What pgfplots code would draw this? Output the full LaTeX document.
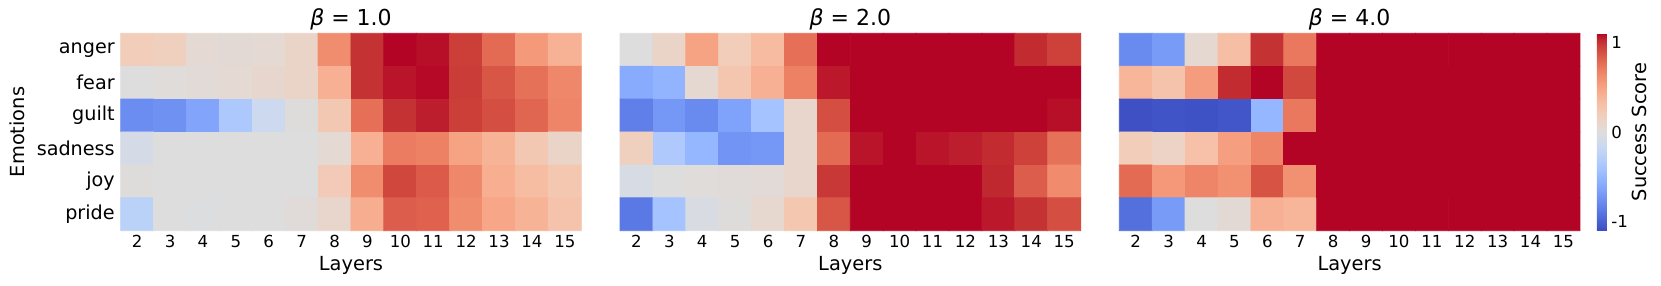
\documentclass[border=0pt]{standalone}
\usepackage{fontspec}
\setmainfont{DejaVu Sans}
\usepackage{pgfplots}
\usepackage{pgfplotstable}
\pgfplotsset{compat=1.18}
\pgfplotsset{colormap={coolwarm}{
rgb255=(59,76,192) rgb255=(68,90,204) rgb255=(77,104,215) rgb255=(87,117,225)
rgb255=(98,130,234) rgb255=(108,142,241) rgb255=(119,154,247) rgb255=(130,165,251)
rgb255=(141,176,254) rgb255=(152,185,255) rgb255=(163,194,255) rgb255=(174,201,253)
rgb255=(184,208,249) rgb255=(194,213,244) rgb255=(204,217,238) rgb255=(213,219,230)
rgb255=(221,221,221) rgb255=(229,216,209) rgb255=(236,211,197) rgb255=(241,204,185)
rgb255=(245,196,173) rgb255=(247,187,160) rgb255=(247,177,148) rgb255=(247,166,135)
rgb255=(244,154,123) rgb255=(241,141,111) rgb255=(236,127,99) rgb255=(229,112,88)
rgb255=(222,96,77) rgb255=(213,80,66) rgb255=(203,62,56) rgb255=(192,40,47)
rgb255=(180,4,38)}}

% y: 5=anger 4=fear 3=guilt 2=sadness 1=joy 0=pride
\pgfplotstableread{
x y z
2 5 0.20
3 5 0.18
4 5 0.06
5 5 0.05
6 5 0.06
7 5 0.12
8 5 0.62
9 5 1.00
10 5 1.10
11 5 1.08
12 5 0.96
13 5 0.78
14 5 0.55
15 5 0.41
2 4 0.00
3 4 0.02
4 4 0.04
5 4 0.06
6 4 0.09
7 4 0.12
8 4 0.42
9 4 1.00
10 4 1.07
11 4 1.09
12 4 0.97
13 4 0.87
14 4 0.75
15 4 0.65
2 3 -0.76
3 3 -0.74
4 3 -0.62
5 3 -0.35
6 3 -0.14
7 3 0.01
8 3 0.24
9 3 0.76
10 3 1.00
11 3 1.05
12 3 0.96
13 3 0.90
14 3 0.80
15 3 0.66
2 2 -0.08
3 2 0.00
4 2 0.00
5 2 0.00
6 2 0.00
7 2 0.00
8 2 0.06
9 2 0.42
10 2 0.70
11 2 0.68
12 2 0.50
13 2 0.40
14 2 0.24
15 2 0.12
2 1 0.01
3 1 0.00
4 1 0.00
5 1 0.00
6 1 0.00
7 1 0.00
8 1 0.22
9 1 0.62
10 1 0.93
11 1 0.85
12 1 0.65
13 1 0.43
14 1 0.33
15 1 0.25
2 0 -0.26
3 0 0.00
4 0 -0.01
5 0 0.00
6 0 0.00
7 0 0.03
8 0 0.10
9 0 0.44
10 0 0.84
11 0 0.82
12 0 0.62
13 0 0.48
14 0 0.40
15 0 0.28
}\tA

\pgfplotstableread{
x y z
2 5 0.00
3 5 0.12
4 5 0.50
5 5 0.20
6 5 0.34
7 5 0.76
8 5 1.10
9 5 1.10
10 5 1.10
11 5 1.10
12 5 1.10
13 5 1.10
14 5 1.02
15 5 0.95
2 4 -0.58
3 4 -0.52
4 4 0.07
5 4 0.26
6 4 0.42
7 4 0.68
8 4 1.06
9 4 1.10
10 4 1.10
11 4 1.10
12 4 1.10
13 4 1.10
14 4 1.10
15 4 1.10
2 3 -0.84
3 3 -0.70
4 3 -0.78
5 3 -0.64
6 3 -0.40
7 3 0.10
8 3 0.90
9 3 1.10
10 3 1.10
11 3 1.10
12 3 1.10
13 3 1.10
14 3 1.10
15 3 1.08
2 2 0.18
3 2 -0.34
4 2 -0.50
5 2 -0.72
6 2 -0.70
7 2 0.10
8 2 0.78
9 2 1.07
10 2 1.10
11 2 1.07
12 2 1.05
13 2 1.02
14 2 0.95
15 2 0.75
2 1 -0.05
3 1 0.00
4 1 0.02
5 1 0.03
6 1 0.04
7 1 0.10
8 1 0.98
9 1 1.10
10 1 1.10
11 1 1.10
12 1 1.10
13 1 1.03
14 1 0.84
15 1 0.63
2 0 -0.87
3 0 -0.40
4 0 -0.04
5 0 0.01
6 0 0.08
7 0 0.25
8 0 0.87
9 0 1.10
10 0 1.10
11 0 1.10
12 0 1.10
13 0 1.06
14 0 1.00
15 0 0.90
}\tB

\pgfplotstableread{
x y z
2 5 -0.78
3 5 -0.68
4 5 0.07
5 5 0.32
6 5 1.00
7 5 0.72
8 5 1.10
9 5 1.10
10 5 1.10
11 5 1.10
12 5 1.10
13 5 1.10
14 5 1.10
15 5 1.10
2 4 0.38
3 4 0.28
4 4 0.54
5 4 1.02
6 4 1.10
7 4 0.92
8 4 1.10
9 4 1.10
10 4 1.10
11 4 1.10
12 4 1.10
13 4 1.10
14 4 1.10
15 4 1.10
2 3 -1.08
3 3 -1.06
4 3 -1.07
5 3 -1.05
6 3 -0.50
7 3 0.72
8 3 1.10
9 3 1.10
10 3 1.10
11 3 1.10
12 3 1.10
13 3 1.10
14 3 1.10
15 3 1.10
2 2 0.20
3 2 0.14
4 2 0.30
5 2 0.52
6 2 0.66
7 2 1.10
8 2 1.10
9 2 1.10
10 2 1.10
11 2 1.10
12 2 1.10
13 2 1.10
14 2 1.10
15 2 1.10
2 1 0.78
3 1 0.56
4 1 0.66
5 1 0.60
6 1 0.88
7 1 0.60
8 1 1.10
9 1 1.10
10 1 1.10
11 1 1.10
12 1 1.10
13 1 1.10
14 1 1.10
15 1 1.10
2 0 -0.92
3 0 -0.68
4 0 0.00
5 0 0.05
6 0 0.42
7 0 0.38
8 0 1.10
9 0 1.10
10 0 1.10
11 0 1.10
12 0 1.10
13 0 1.10
14 0 1.10
15 0 1.10
}\tC

\pgfplotsset{hm/.style={
  scale only axis, width=230.3pt, height=98.7pt, anchor=south west,
  xmin=1.5, xmax=15.5, ymin=-0.5, ymax=5.5, enlargelimits=false,
  xtick={2,...,15}, xticklabels={2,3,4,5,6,7,8,9,10,11,12,13,14,15},
  ytick={0,...,5},
  major tick length=0pt, axis line style={draw=none},
  colormap name=coolwarm, point meta min=-1.1, point meta max=1.1,
  /pgf/number format/assume math mode=true,
  clip=false,
  xticklabel style={font=\fontsize{8.3}{10}\selectfont, anchor=base, inner sep=0pt, yshift=-8.3pt},
  yticklabel style={font=\fontsize{9.6}{11}\selectfont, anchor=east, inner sep=0pt, xshift=-2.8pt},
  xlabel={Layers},
  xlabel style={font=\fontsize{9.7}{11}\selectfont, at={(axis description cs:0.5,0)}, anchor=base, inner sep=0pt, yshift=-20pt},
}}
\newcommand{\hmtitle}[1]{\node[font=\fontsize{11}{13}\selectfont, anchor=base, inner sep=0pt] at ([yshift=3.65pt]rel axis cs:0.5,1) {{\itshape β} = #1};}

\begin{document}
\begin{tikzpicture}
\path[use as bounding box] (0,0) rectangle (830.5pt,142.5pt);

\begin{axis}[hm, at={(60.35pt,27.15pt)},
  yticklabels={pride,joy,sadness,guilt,fear,anger},
  ylabel={Emotions},
  ylabel style={font=\fontsize{9.7}{11}\selectfont, at={(axis description cs:-0.2251,0.5)}, anchor=center, inner sep=0pt}]
\addplot[matrix plot*, mesh/cols=14, point meta=explicit] table[x=x, y=y, meta=z] {\tA};
\hmtitle{1.0}
\end{axis}

\begin{axis}[hm, at={(310pt,27.15pt)}, yticklabels={}]
\addplot[matrix plot*, mesh/cols=14, point meta=explicit] table[x=x, y=y, meta=z] {\tB};
\hmtitle{2.0}
\end{axis}

\begin{axis}[hm, at={(559.65pt,27.15pt)}, yticklabels={},
  colorbar,
  colorbar style={width=5pt, at={(parent axis.north east)}, anchor=north west, xshift=0pt,
    axis line style={draw=none}, major tick length=0pt,
    ytick={-1,0,1}, yticklabels={-1,0,1},
    yticklabel style={font=\fontsize{8.3}{10}\selectfont, anchor=west, inner sep=0pt, xshift=2pt}}]
\addplot[matrix plot*, mesh/cols=14, point meta=explicit] table[x=x, y=y, meta=z] {\tC};
\hmtitle{4.0}
\node[font=\fontsize{9.7}{11}\selectfont, rotate=90, anchor=center, inner sep=0pt] at (rel axis cs:1.130,0.5) {Success Score};
\end{axis}
\end{tikzpicture}
\end{document}
